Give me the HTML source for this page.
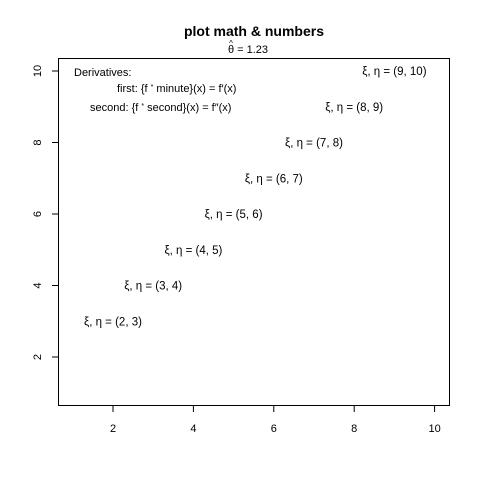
<!DOCTYPE html>
<html><head><meta charset="utf-8"><style>body{margin:0;background:#fff}svg{display:block;font-family:"Liberation Sans",sans-serif}</style></head>
<body>
<svg id="c" width="480" height="480">
<text x="254" y="36" font-size="14" font-weight="bold" text-anchor="middle">plot math &amp; numbers</text>
<text x="231" y="46" font-size="8" text-anchor="middle">^</text>
<text x="248" y="53" font-size="11" text-anchor="middle">θ = 1.23</text>
<rect x="58.5" y="58.5" width="391" height="347" fill="none" stroke="#000"/>
<g id="ax"></g>
<g id="pts"></g>
<text x="74" y="76" font-size="11">Derivatives:</text>
<text x="117" y="92" font-size="11">first: {f <tspan font-size="7" dy="-3">*</tspan><tspan dy="3"> minute}(x)  = f′(x)</tspan></text>
<text x="90" y="111" font-size="11">second: {f <tspan font-size="7" dy="-3">*</tspan><tspan dy="3"> second}(x)  = f″(x)</tspan></text>
</svg>
<script>
const xs=[2,3,4,5,6,7,8,9];
const ys=[3,4,5,6,7,8,9,10];
const xticks=[2,4,6,8,10];
const yticks=[2,4,6,8,10];
const X=v=>113+(v-2)*40.2, Y=v=>357-(v-2)*35.75;
const ns="http://www.w3.org/2000/svg";
const ax=document.getElementById('ax'),pts=document.getElementById('pts');
function mk(t,a,p){const e=document.createElementNS(ns,t);for(const k in a)e.setAttribute(k,a[k]);p.appendChild(e);return e;}
xticks.forEach(v=>{
 const l=mk('line',{x1:X(v),x2:X(v),y1:405.5,y2:412,stroke:'#000'},ax);
 
 
 const t=mk('text',{x:X(v),y:432,'font-size':11,'text-anchor':'middle'},ax);t.textContent=v;
 
 
});
yticks.forEach(v=>{
 const l=mk('line',{x1:52,x2:58.5,y1:Y(v),y2:Y(v),stroke:'#000'},ax);
 
 
 const t=mk('text',{x:0,y:0,'font-size':11,'text-anchor':'middle',transform:`translate(41,${Y(v)}) rotate(-90)`},ax);t.textContent=v;
 
 
});
xs.forEach((v,i)=>{
 const t=mk('text',{x:X(v),y:Y(ys[i])+4,'font-size':11.5,'text-anchor':'middle'},pts);
 t.textContent=`ξ, η = (${v}, ${ys[i]})`;
 
 
});
</script>
</body></html>
